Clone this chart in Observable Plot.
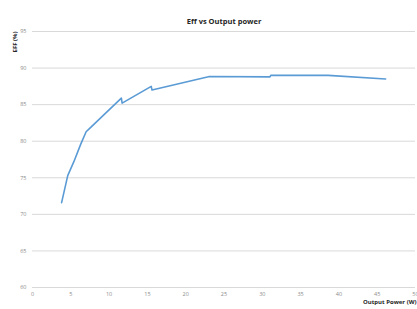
<!DOCTYPE html>
<html>
<head>
<meta charset="utf-8">
<script src="https://cdn.jsdelivr.net/npm/d3@7"></script>
<script src="https://cdn.jsdelivr.net/npm/@observablehq/plot@0.6"></script>
<style>
html,body{margin:0;padding:0;background:#fff;}
</style>
</head>
<body>
<div id="chart"></div>
<script>
const power = [3.8, 4.6, 5.4, 6.3, 7.0, 7.6, 11.6, 11.7, 15.5, 15.6, 23.1, 31.0, 31.1, 38.6, 46.1];
const eff   = [71.6, 75.3, 77.2, 79.6, 81.3, 81.9, 85.9, 85.2, 87.5, 87.0, 88.85, 88.8, 89.0, 89.0, 88.5];
const xTicks = [0, 5, 10, 15, 20, 25, 30, 35, 40, 45, 50];
const yTicks = [60, 65, 70, 75, 80, 85, 90, 95];

const data = power.map((p, i) => ({power: p, eff: eff[i]}));
const font = "'Open Sans', 'Liberation Sans', sans-serif";

const chart = Plot.plot({
  width: 417,
  height: 309,
  marginTop: 31,
  marginBottom: 22,
  marginLeft: 32,
  marginRight: 2,
  style: {fontFamily: font, background: "#fff", overflow: "visible"},
  x: {domain: [0, 50], ticks: xTicks, label: null},
  y: {domain: [60, 95], ticks: yTicks, label: null},
  marks: [
    Plot.gridY(yTicks, {stroke: "#d9d9d9", strokeOpacity: 1, strokeWidth: 1}),
    Plot.axisX(xTicks, {tickSize: 0, tickPadding: 5, fontSize: 5.5, fill: "#8c8c8c", label: null}),
    Plot.axisY(yTicks, {tickSize: 0, tickPadding: 6, fontSize: 5.5, fill: "#8c8c8c", label: null}),
    Plot.line(data, {x: "power", y: "eff", stroke: "#5b9bd5", strokeWidth: 1.6}),
    Plot.text(["Eff vs Output power"], {frameAnchor: "top", dy: -13, fontSize: 7.5, fontWeight: "bold", fill: "#262626"}),
    Plot.text(["EFF (%)"], {frameAnchor: "top-left", dx: -20, dy: 0, rotate: -90, textAnchor: "end", fontSize: 6, fontWeight: "bold", fill: "#262626"}),
    Plot.text(["Output Power (W)"], {frameAnchor: "bottom-right", dx: 1, dy: 16, textAnchor: "end", fontSize: 6, fontWeight: "bold", fill: "#262626"})
  ]
});
document.getElementById("chart").appendChild(chart);
</script>
</body>
</html>
